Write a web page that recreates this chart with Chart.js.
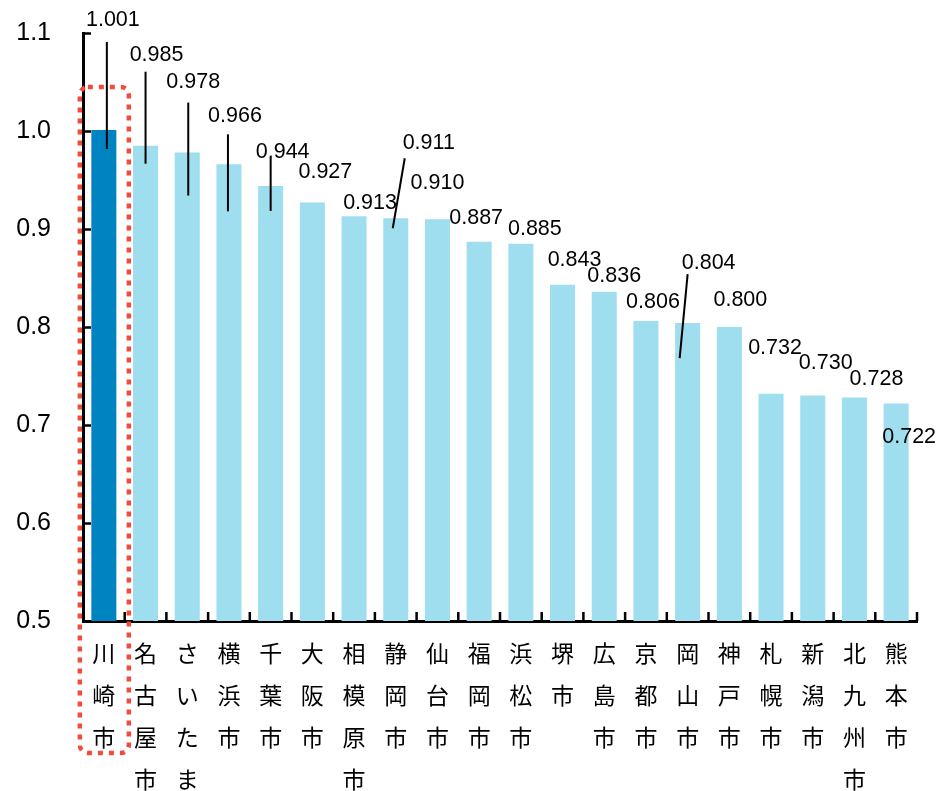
<!DOCTYPE html>
<html lang="ja">
<head>
<meta charset="utf-8">
<script src="https://cdn.jsdelivr.net/npm/chart.js@4"></script>
<style>
  html, body { margin: 0; padding: 0; background: #fff; }
  #wrap { width: 937px; height: 791px; }
</style>
</head>
<body>
<div id="wrap"><canvas id="c" width="937" height="791"></canvas></div>
<script>
// 指定都市の指数（上位から順）
const cities = [
  ['川','崎','市'], ['名','古','屋','市'], ['さ','い','た','ま'], ['横','浜','市'],
  ['千','葉','市'], ['大','阪','市'], ['相','模','原','市'], ['静','岡','市'],
  ['仙','台','市'], ['福','岡','市'], ['浜','松','市'], ['堺','市'],
  ['広','島','市'], ['京','都','市'], ['岡','山','市'], ['神','戸','市'],
  ['札','幌','市'], ['新','潟','市'], ['北','九','州','市'], ['熊','本','市']
];
const values = [1.001, 0.985, 0.978, 0.966, 0.944, 0.927, 0.913, 0.911, 0.910, 0.887,
                0.885, 0.843, 0.836, 0.806, 0.804, 0.800, 0.732, 0.730, 0.728, 0.722];
const yTicks = [0.5, 0.6, 0.7, 0.8, 0.9, 1.0, 1.1];
const highlightIndex = 0;

// 値ラベルの配置（棒の中心・上端からのずれ、px）と引き出し線
const labelPlacement = [
  { dx: 9,  dy: -110, line: [3, -88, 3, 19] },
  { dx: 11, dy: -91,  line: [0, -74, 0, 18] },
  { dx: 6,  dy: -70,  line: [1, -50, 1, 43] },
  { dx: 6,  dy: -48,  line: [-1, -30, -1, 47] },
  { dx: 12, dy: -34,  line: [0, -28, 0, 25] },
  { dx: 13, dy: -30 },
  { dx: 16, dy: -13 },
  { dx: 33, dy: -75,  line: [9, -60, -3, 10] },
  { dx: 0,  dy: -36 },
  { dx: -3, dy: -24 },
  { dx: 14, dy: -15 },
  { dx: 12, dy: -25 },
  { dx: 10, dy: -16 },
  { dx: 7,  dy: -19 },
  { dx: 21, dy: -60,  line: [0, -49, -8, 35] },
  { dx: 11, dy: -27 },
  { dx: 4,  dy: -46 },
  { dx: 13, dy: -33 },
  { dx: 22, dy: -18 },
  { dx: 13, dy: 34 }
];

const DARK = 'rgb(0,131,193)';
const LIGHT = 'rgb(158,222,238)';

// 軸の内向き目盛り・値ラベル・強調枠
const decorations = {
  id: 'decorations',
  afterDatasetsDraw(chart) {
    const { ctx, chartArea } = chart;
    const xs = chart.scales.x, ys = chart.scales.y;
    const step = (chartArea.right - chartArea.left) / cities.length;
    ctx.save();

    // y軸目盛り（右向き）
    ctx.strokeStyle = '#000';
    ctx.lineWidth = 2.5;
    yTicks.forEach(v => {
      const y = Math.round(ys.getPixelForValue(v)) + 0.5;
      ctx.beginPath();
      ctx.moveTo(chartArea.left, y);
      ctx.lineTo(chartArea.left + 8, y);
      ctx.stroke();
    });
    // x軸目盛り（上向き、区切り位置）
    for (let i = 1; i <= cities.length; i++) {
      const x = chartArea.left + i * step;
      ctx.beginPath();
      ctx.moveTo(x, chartArea.bottom);
      ctx.lineTo(x, chartArea.bottom - 9);
      ctx.stroke();
    }

    // 値ラベルと引き出し線
    ctx.font = '21.5px "Liberation Sans", Arial, sans-serif';
    ctx.fillStyle = '#000';
    ctx.textAlign = 'center';
    ctx.textBaseline = 'middle';
    values.forEach((v, i) => {
      const cx = xs.getPixelForValue(i);
      const top = ys.getPixelForValue(v);
      const p = labelPlacement[i];
      if (p.line) {
        ctx.lineWidth = 2;
        ctx.beginPath();
        ctx.moveTo(cx + p.line[0], top + p.line[1]);
        ctx.lineTo(cx + p.line[2], top + p.line[3]);
        ctx.stroke();
      }
      ctx.fillText(v.toFixed(3), cx + p.dx, top + p.dy);
    });

    // 川崎市の強調枠（赤い点線）
    const cx0 = xs.getPixelForValue(highlightIndex);
    const left = cx0 - 24, right = cx0 + 25;
    const top = ys.getPixelForValue(1.045);
    const bottom = chartArea.bottom + 132;
    ctx.strokeStyle = 'rgb(240,75,60)';
    ctx.lineWidth = 4.5;
    ctx.setLineDash([5, 6]);
    ctx.beginPath();
    ctx.roundRect(left, top, right - left, bottom - top, 8);
    ctx.stroke();
    ctx.restore();
  }
};

new Chart(document.getElementById('c'), {
  type: 'bar',
  data: {
    labels: cities,
    datasets: [{
      data: values,
      backgroundColor: values.map((_, i) => i === highlightIndex ? DARK : LIGHT),
      borderWidth: 0,
      categoryPercentage: 1.0,
      barPercentage: 0.6
    }]
  },
  options: {
    responsive: false,
    animation: false,
    devicePixelRatio: 1,
    layout: { padding: { top: 33, right: 20, bottom: 0, left: 0 } },
    plugins: { legend: { display: false }, tooltip: { enabled: false } },
    scales: {
      x: {
        grid: { display: true, drawOnChartArea: false, drawTicks: false, color: 'rgba(0,0,0,0)' },
        border: { display: true, color: '#000', width: 3 },
        ticks: {
          autoSkip: false, maxRotation: 0, minRotation: 0,
          padding: 11, color: '#000',
          font: { family: '"Noto Sans CJK JP", sans-serif', size: 23, lineHeight: 1.83 }
        },
        afterFit(scale) { scale.height = 170; }
      },
      y: {
        min: 0.5, max: 1.1,
        grid: { display: true, drawOnChartArea: false, drawTicks: false, color: 'rgba(0,0,0,0)' },
        border: { display: true, color: '#000', width: 3 },
        ticks: {
          stepSize: 0.1, padding: 32, color: '#000',
          font: { family: '"Liberation Sans", Arial, sans-serif', size: 25 },
          callback: v => Number(v).toFixed(1)
        },
        afterFit(scale) {
          scale.width = 83;
          scale.paddingTop = 0;
          scale.paddingBottom = 0;
        }
      }
    }
  },
  plugins: [decorations]
});
</script>
</body>
</html>
